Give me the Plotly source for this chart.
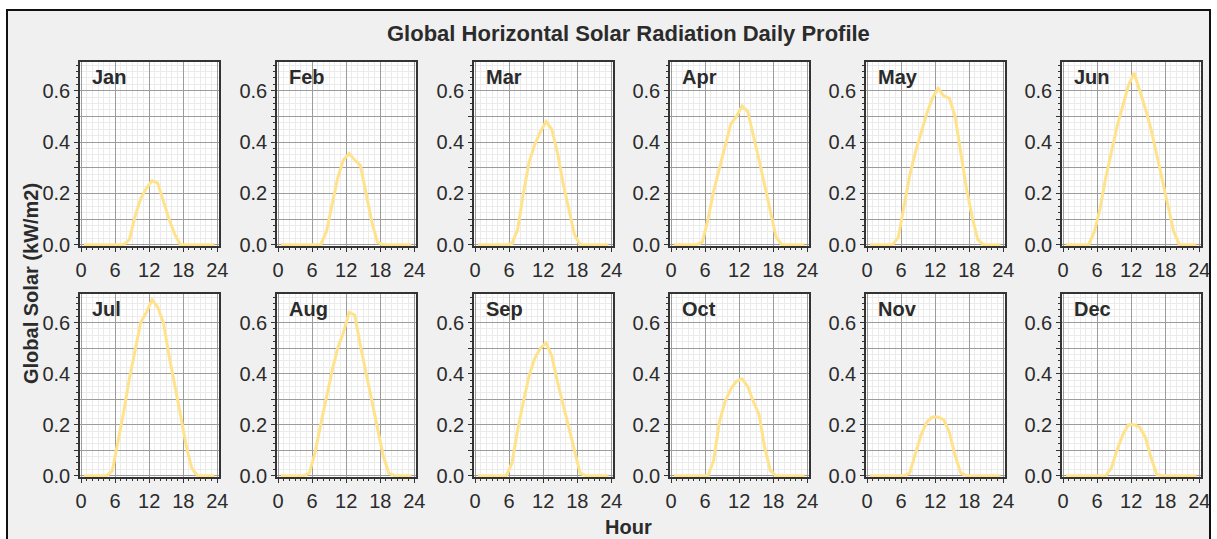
"""Global horizontal solar radiation daily profile, one small panel per month."""

import plotly.graph_objects as go

MONTHS = ["Jan", "Feb", "Mar", "Apr", "May", "Jun",
          "Jul", "Aug", "Sep", "Oct", "Nov", "Dec"]

HOURS = [0.5, 1.5, 2.5, 3.5, 4.5, 5.5, 6.5, 7.5, 8.5, 9.5, 10.5, 11.5,
         12.5, 13.5, 14.5, 15.5, 16.5, 17.5, 18.5, 19.5, 20.5, 21.5, 22.5, 23.5]

# kW/m2, hourly averages
JAN = [0, 0, 0, 0, 0, 0, 0, 0, 0.02, 0.11, 0.18, 0.22, 0.25, 0.24, 0.17, 0.10, 0.04, 0, 0, 0, 0, 0, 0, 0]
FEB = [0, 0, 0, 0, 0, 0, 0, 0, 0.05, 0.16, 0.26, 0.33, 0.355, 0.33, 0.31, 0.20, 0.09, 0.01, 0, 0, 0, 0, 0, 0]
MAR = [0, 0, 0, 0, 0, 0, 0.005, 0.06, 0.20, 0.32, 0.39, 0.44, 0.48, 0.45, 0.36, 0.24, 0.14, 0.04, 0, 0, 0, 0, 0, 0]
APR = [0, 0, 0, 0, 0, 0.01, 0.10, 0.21, 0.30, 0.38, 0.47, 0.50, 0.54, 0.52, 0.43, 0.33, 0.23, 0.13, 0.03, 0, 0, 0, 0, 0]
MAY = [0, 0, 0, 0, 0, 0.03, 0.15, 0.27, 0.36, 0.44, 0.51, 0.57, 0.61, 0.58, 0.57, 0.50, 0.36, 0.22, 0.11, 0.02, 0, 0, 0, 0]
JUN = [0, 0, 0, 0, 0, 0.05, 0.14, 0.26, 0.36, 0.46, 0.54, 0.62, 0.67, 0.60, 0.53, 0.45, 0.35, 0.25, 0.14, 0.05, 0, 0, 0, 0]
JUL = [0, 0, 0, 0, 0, 0.02, 0.13, 0.25, 0.38, 0.49, 0.60, 0.64, 0.69, 0.66, 0.60, 0.47, 0.36, 0.24, 0.12, 0.03, 0, 0, 0, 0]
AUG = [0, 0, 0, 0, 0, 0.01, 0.09, 0.20, 0.31, 0.41, 0.50, 0.56, 0.64, 0.63, 0.51, 0.40, 0.29, 0.18, 0.08, 0.01, 0, 0, 0, 0]
SEP = [0, 0, 0, 0, 0, 0, 0.05, 0.18, 0.29, 0.39, 0.46, 0.50, 0.52, 0.47, 0.37, 0.28, 0.19, 0.09, 0.01, 0, 0, 0, 0, 0]
OCT = [0, 0, 0, 0, 0, 0, 0, 0.06, 0.21, 0.29, 0.34, 0.37, 0.38, 0.35, 0.29, 0.24, 0.11, 0.02, 0, 0, 0, 0, 0, 0]
NOV = [0, 0, 0, 0, 0, 0, 0, 0.01, 0.09, 0.16, 0.21, 0.23, 0.23, 0.22, 0.17, 0.08, 0.01, 0, 0, 0, 0, 0, 0, 0]
DEC = [0, 0, 0, 0, 0, 0, 0, 0, 0.03, 0.10, 0.16, 0.20, 0.20, 0.19, 0.15, 0.07, 0.005, 0, 0, 0, 0, 0, 0, 0]

PROFILES = [JAN, FEB, MAR, APR, MAY, JUN, JUL, AUG, SEP, OCT, NOV, DEC]

X_TICKS = [0, 6, 12, 18, 24]
X_LABELS = ["0", "6", "12", "18", "24"]
Y_TICKS = [0, 0.1, 0.2, 0.3, 0.4, 0.5, 0.6]
Y_LABELS = ["0.0", "", "0.2", "", "0.4", "", "0.6"]

W, H = 1217, 539
PANEL_LEFTS = [80, 277, 474, 670, 866, 1062]
PANEL_W = 139
ROW_SPANS = [(62, 246), (294, 477)]  # top, bottom in pixels

FONT = "Arial, Liberation Sans, sans-serif"
INK = "#2b2b2b"
LINE_COLOR = "#FFE38C"

fig = go.Figure()
layout = {}

for i, (month, values) in enumerate(zip(MONTHS, PROFILES)):
    n = i + 1
    row, col = divmod(i, 6)
    left = PANEL_LEFTS[col]
    top, bottom = ROW_SPANS[row]
    xname = "xaxis" if n == 1 else f"xaxis{n}"
    yname = "yaxis" if n == 1 else f"yaxis{n}"
    xref = "x" if n == 1 else f"x{n}"
    yref = "y" if n == 1 else f"y{n}"

    fig.add_trace(go.Scatter(
        x=HOURS, y=values, mode="lines",
        line={"color": LINE_COLOR, "width": 3},
        xaxis=xref, yaxis=yref, showlegend=False, hoverinfo="x+y",
    ))

    common = {
        "showline": True, "mirror": True, "linecolor": "#333333", "linewidth": 1.5,
        "ticks": "outside", "ticklen": 4, "tickcolor": "#333333",
        "showgrid": True, "gridcolor": "#9c9c9c", "gridwidth": 1,
        "zeroline": False,
        "tickfont": {"family": FONT, "size": 20, "color": INK},
    }
    layout[xname] = dict(
        common,
        domain=[left / W, (left + PANEL_W) / W],
        anchor=yref, range=[-0.2, 24.3],
        tickvals=X_TICKS, ticktext=X_LABELS,
        ticklabelstandoff=1,
        minor={"dtick": 1, "ticks": "outside", "ticklen": 2, "tickcolor": "#333333",
               "showgrid": True, "gridcolor": "#ebebeb", "gridwidth": 1},
    )
    layout[yname] = dict(
        common,
        domain=[1 - bottom / H, 1 - top / H],
        anchor=xref, range=[-0.005, 0.712],
        tickvals=Y_TICKS, ticktext=Y_LABELS,
        minor={"dtick": 0.025, "ticks": "outside", "ticklen": 2, "tickcolor": "#333333",
               "showgrid": True, "gridcolor": "#ebebeb", "gridwidth": 1},
    )

    fig.add_annotation(
        text=f"<b>{month}</b>", showarrow=False,
        xref=f"{xref} domain", yref=f"{yref} domain",
        x=10 / PANEL_W, y=1 - 15 / (bottom - top),
        xanchor="left", yanchor="middle",
        font={"family": FONT, "size": 20, "color": INK},
    )

fig.add_annotation(
    text="<b>Global Horizontal Solar Radiation Daily Profile</b>", showarrow=False,
    xref="paper", yref="paper", x=628 / W, y=1 - 34 / H,
    xanchor="center", yanchor="middle",
    font={"family": FONT, "size": 22, "color": INK},
)
fig.add_annotation(
    text="<b>Hour</b>", showarrow=False,
    xref="paper", yref="paper", x=628 / W, y=1 - 527 / H,
    xanchor="center", yanchor="middle",
    font={"family": FONT, "size": 20, "color": INK},
)
fig.add_annotation(
    text="<b>Global Solar (kW/m2)</b>", showarrow=False, textangle=-90,
    xref="paper", yref="paper", x=31 / W, y=1 - 284 / H,
    xanchor="center", yanchor="middle",
    font={"family": FONT, "size": 20, "color": INK},
)

# white strips outside the window frame, then the frame itself
frame_shapes = [
    {"type": "rect", "xref": "paper", "yref": "paper", "x0": 0, "x1": 1,
     "y0": 1 - 10 / H, "y1": 1, "fillcolor": "white", "line": {"width": 0}},
    {"type": "rect", "xref": "paper", "yref": "paper", "x0": 0, "x1": 7 / W,
     "y0": 0, "y1": 1, "fillcolor": "white", "line": {"width": 0}},
    {"type": "rect", "xref": "paper", "yref": "paper", "x0": 1210 / W, "x1": 1,
     "y0": 0, "y1": 1, "fillcolor": "white", "line": {"width": 0}},
    {"type": "rect", "xref": "paper", "yref": "paper", "x0": 7 / W, "x1": 1210 / W,
     "y0": -0.05, "y1": 1 - 10 / H, "line": {"color": "#111111", "width": 2}},
]

fig.update_layout(
    **layout,
    shapes=frame_shapes,
    width=W, height=H,
    # keep annotations near the edges from pushing the margins out
    margin={"l": 0, "r": 0, "t": 0, "b": 0, "autoexpand": False},
    paper_bgcolor="#f0f0f0",
    plot_bgcolor="white",
    showlegend=False,
)

# drop the browser's default body margin so the figure sits at the page origin
fig.write_html(
    "out.html",
    config={"displayModeBar": False, "responsive": False},
    post_script="document.body.style.margin = '0'; document.documentElement.style.overflow = 'hidden';",
)
